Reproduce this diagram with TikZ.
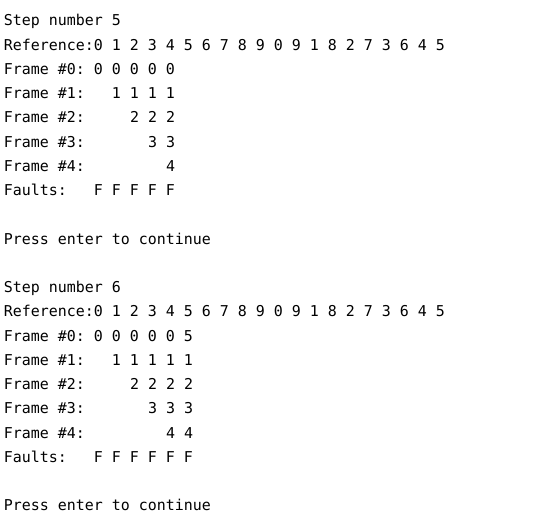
\documentclass[tikz,border=0pt]{standalone}
\usepackage{fontspec}
\setmonofont{DejaVu Sans Mono}
\begin{document}
\begin{tikzpicture}[
      x=1pt, y=1pt,
      zeile/.style={anchor=base west, inner sep=0pt, outer sep=0pt,
        text=black, font=\ttfamily\fontsize{14.95}{15}\selectfont}
    ]
    \useasboundingbox[fill=white] (0,0) rectangle (541,-526);
    % step 5
    \path (4,-26)     node(stepa)  [zeile] {Step number 5}
    (4,-50.25)  node(refa)   [zeile] {Reference:0 1 2 3 4 5 6 7 8 9 0 9 1 8 2 7 3 6 4 5}
    (4,-74.5)   node(fa0)    [zeile] {Frame \#0: 0 0 0 0 0}
    (4,-98.75)  node(fa1)    [zeile] {Frame \#1:~~~1 1 1 1}
    (4,-123)    node(fa2)    [zeile] {Frame \#2:~~~~~2 2 2}
    (4,-147.25) node(fa3)    [zeile] {Frame \#3:~~~~~~~3 3}
    (4,-171.5)  node(fa4)    [zeile] {Frame \#4:~~~~~~~~~4}
    (4,-195.75) node(faultsa)[zeile] {Faults:~~~F F F F F}
    (4,-244.25) node(pressa) [zeile] {Press enter to continue};
    % step 6
    \path (4,-292.75) node(stepb)  [zeile] {Step number 6}
    (4,-317)    node(refb)   [zeile] {Reference:0 1 2 3 4 5 6 7 8 9 0 9 1 8 2 7 3 6 4 5}
    (4,-341.25) node(fb0)    [zeile] {Frame \#0: 0 0 0 0 0 5}
    (4,-365.5)  node(fb1)    [zeile] {Frame \#1:~~~1 1 1 1 1}
    (4,-389.75) node(fb2)    [zeile] {Frame \#2:~~~~~2 2 2 2}
    (4,-414)    node(fb3)    [zeile] {Frame \#3:~~~~~~~3 3 3}
    (4,-438.25) node(fb4)    [zeile] {Frame \#4:~~~~~~~~~4 4}
    (4,-462.5)  node(faultsb)[zeile] {Faults:~~~F F F F F F}
    (4,-511)    node(pressb) [zeile] {Press enter to continue};
  \end{tikzpicture}
\end{document}
